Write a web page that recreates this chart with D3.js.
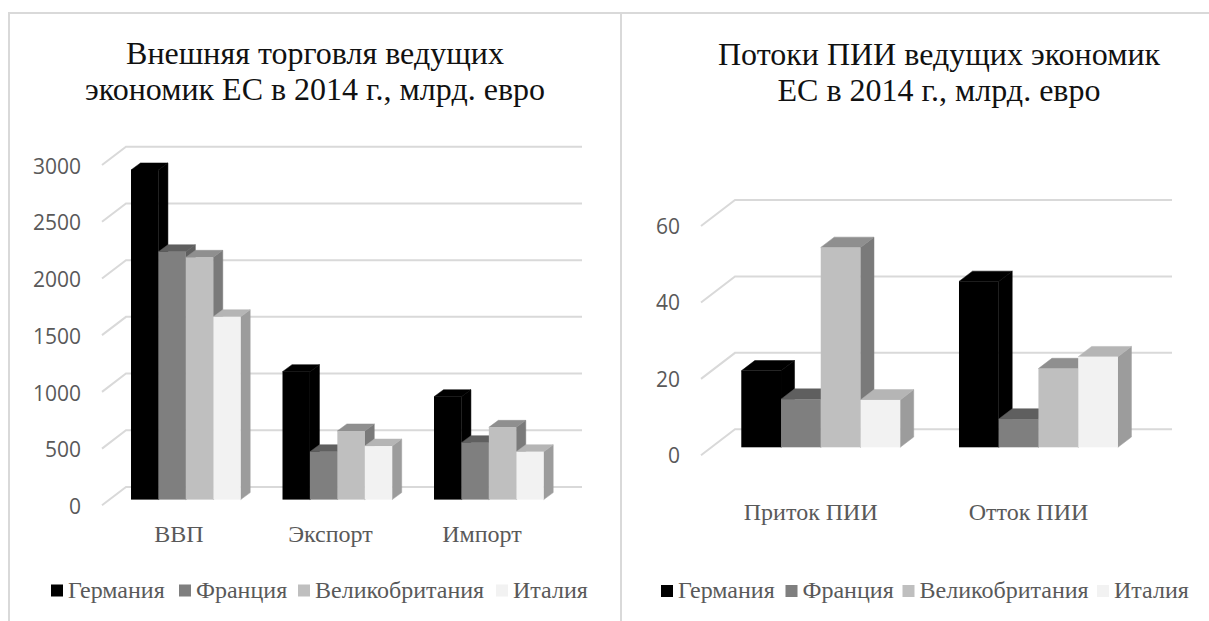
<!DOCTYPE html>
<html><head><meta charset="utf-8">
<script src="https://cdn.jsdelivr.net/npm/d3@7/dist/d3.min.js"></script>
<style>html,body{margin:0;padding:0;background:#fff;overflow:hidden}svg{display:block}</style>
</head><body>
<svg id="c" width="1209" height="621"></svg>
<script>
const seriesNames = ["Германия","Франция","Великобритания","Италия"];
const tradeCategories = ["ВВП","Экспорт","Импорт"];
const tradeGermany = [2906,1128,907];
const tradeFrance = [2185,422,502];
const tradeUK = [2136,605,637];
const tradeItaly = [1612,472,422];
const tradeTicks = [0,500,1000,1500,2000,2500,3000];
const fdiCategories = ["Приток ПИИ","Отток ПИИ"];
const fdiGermany = [20.0,43.4];
const fdiFrance = [12.6,7.4];
const fdiUK = [52.3,20.6];
const fdiItaly = [12.4,23.7];
const fdiTicks = [0,20,40,60];
const frontColors = ["#000000","#7f7f7f","#bfbfbf","#f2f2f2"];
const topColors = ["#000000","#5f5f5f","#8f8f8f","#b5b5b5"];
const sideColors = ["#000000","#5f5f5f","#7a7a7a","#9c9c9c"];
const serif = "'Liberation Serif','Times New Roman',serif";
const sans = "'Open Sans','Noto Sans',sans-serif";
const svg = d3.select("#c");
const frame = svg.append("g").attr("stroke","#d9d9d9").attr("stroke-width",2).attr("fill","none");
frame.append("line").attr("x1",8).attr("x2",1209).attr("y1",13).attr("y2",13);
frame.append("line").attr("x1",9).attr("x2",9).attr("y1",13).attr("y2",621);
frame.append("line").attr("x1",621).attr("x2",621).attr("y1",13).attr("y2",621);

function draw(o){
  const g = svg.append("g");
  const y = d3.scaleLinear().domain([0,o.ticks[o.ticks.length-1]]).range(o.yRange);
  const x = d3.scaleBand().domain(o.cats).range(o.xRange).paddingInner(o.padIn).paddingOuter(o.padIn/2);
  const xs = d3.scaleBand().domain(seriesNames).range([0,x.bandwidth()]);
  const grid = g.append("g").attr("fill","none").attr("stroke","#d9d9d9").attr("stroke-width",2);
  grid.selectAll("path").data(o.ticks).join("path")
    .attr("d",t=>{const p=d3.path();p.moveTo(o.gridLeft-o.floorDx,y(t)+o.floorDy);p.lineTo(o.gridLeft,y(t));p.lineTo(o.gridRight,y(t));return p.toString();});
  const axis = g.append("g").attr("transform",`translate(${o.gridLeft-o.floorDx},${o.floorDy+o.tickShift})`)
    .call(d3.axisLeft(y).tickValues(o.ticks).tickSize(0).tickPadding(o.tickPad).tickFormat(d3.format("d")));
  axis.select(".domain").remove();
  axis.selectAll("text").attr("font-family",sans).attr("font-size",o.tickSize).attr("fill","#595959");
  const base = y(0)+o.baseOffset;
  o.cats.forEach((c,ci)=>{
    const bg = g.append("g").attr("transform",`translate(${x(c)},0)`);
    o.series.forEach((vals,si)=>{
      const v = vals[ci], h = y(0)-y(v), w = xs.bandwidth(), x0 = xs(seriesNames[si]), t = base-h;
      const dx=o.barDx, dy=o.barDy;
      bg.append("path").attr("fill",sideColors[si]).attr("stroke",sideColors[si]).attr("stroke-width",0.5)
        .attr("d",`M${x0+w},${t}L${x0+w+dx},${t-dy}L${x0+w+dx},${base-dy}L${x0+w},${base}Z`);
      bg.append("path").attr("fill",topColors[si]).attr("stroke",topColors[si]).attr("stroke-width",0.5)
        .attr("d",`M${x0},${t}L${x0+dx},${t-dy}L${x0+w+dx},${t-dy}L${x0+w},${t}Z`);
      bg.append("rect").attr("x",x0).attr("y",t).attr("width",w).attr("height",h).attr("fill",frontColors[si]);
    });
    g.append("text").attr("x",x(c)+o.labelDx).attr("y",o.labelY).attr("text-anchor","middle")
      .attr("font-family",serif).attr("font-size",o.labelSize).attr("fill","#595959").text(c);
  });
  o.title.forEach((line,i)=>g.append("text").attr("x",o.titleX).attr("y",o.titleY[i])
    .attr("text-anchor","middle").attr("font-family",serif).attr("font-size",o.titleSize).attr("fill","#111111").text(line));
  seriesNames.forEach((n,i)=>{
    g.append("rect").attr("x",o.legendX[i]).attr("y",o.legendY-13).attr("width",12).attr("height",12).attr("fill",frontColors[i]);
    g.append("text").attr("x",o.legendX[i]+17).attr("y",o.legendY).attr("font-family",serif).attr("font-size",o.legendSize).attr("fill","#595959").text(n);
  });
}
draw({cats:tradeCategories,ticks:tradeTicks,series:[tradeGermany,tradeFrance,tradeUK,tradeItaly],
  yRange:[487,146.7],xRange:[110.1,564.6],padIn:0.276,gridLeft:126,gridRight:582,floorDx:24,floorDy:18.3,
  baseOffset:12.6,barDx:9.5,barDy:7,tickPad:21,tickSize:21,tickShift:1.5,labelDx:48,labelY:542,labelSize:24,
  title:["Внешняя торговля ведущих","экономик ЕС в 2014 г., млрд. евро"],titleX:315,titleY:[63.5,99.5],titleSize:32,
  legendX:[51,179,298,496],legendY:597.5,legendSize:24});
draw({cats:fdiCategories,ticks:fdiTicks,series:[fdiGermany,fdiFrance,fdiUK,fdiItaly],
  yRange:[429.3,200],xRange:[711.9,1147.3],padIn:0.27,gridLeft:735,gridRight:1172,floorDx:34,floorDy:26,
  baseOffset:18,barDx:13.5,barDy:10.3,tickPad:21,tickSize:21,tickShift:0.5,labelDx:69.5,labelY:520,labelSize:24,
  title:["Потоки ПИИ ведущих экономик","ЕС в 2014 г., млрд. евро"],titleX:939,titleY:[64.5,101],titleSize:32,
  legendX:[661,785.5,902.5,1097],legendY:598,legendSize:24});
</script>
</body></html>
